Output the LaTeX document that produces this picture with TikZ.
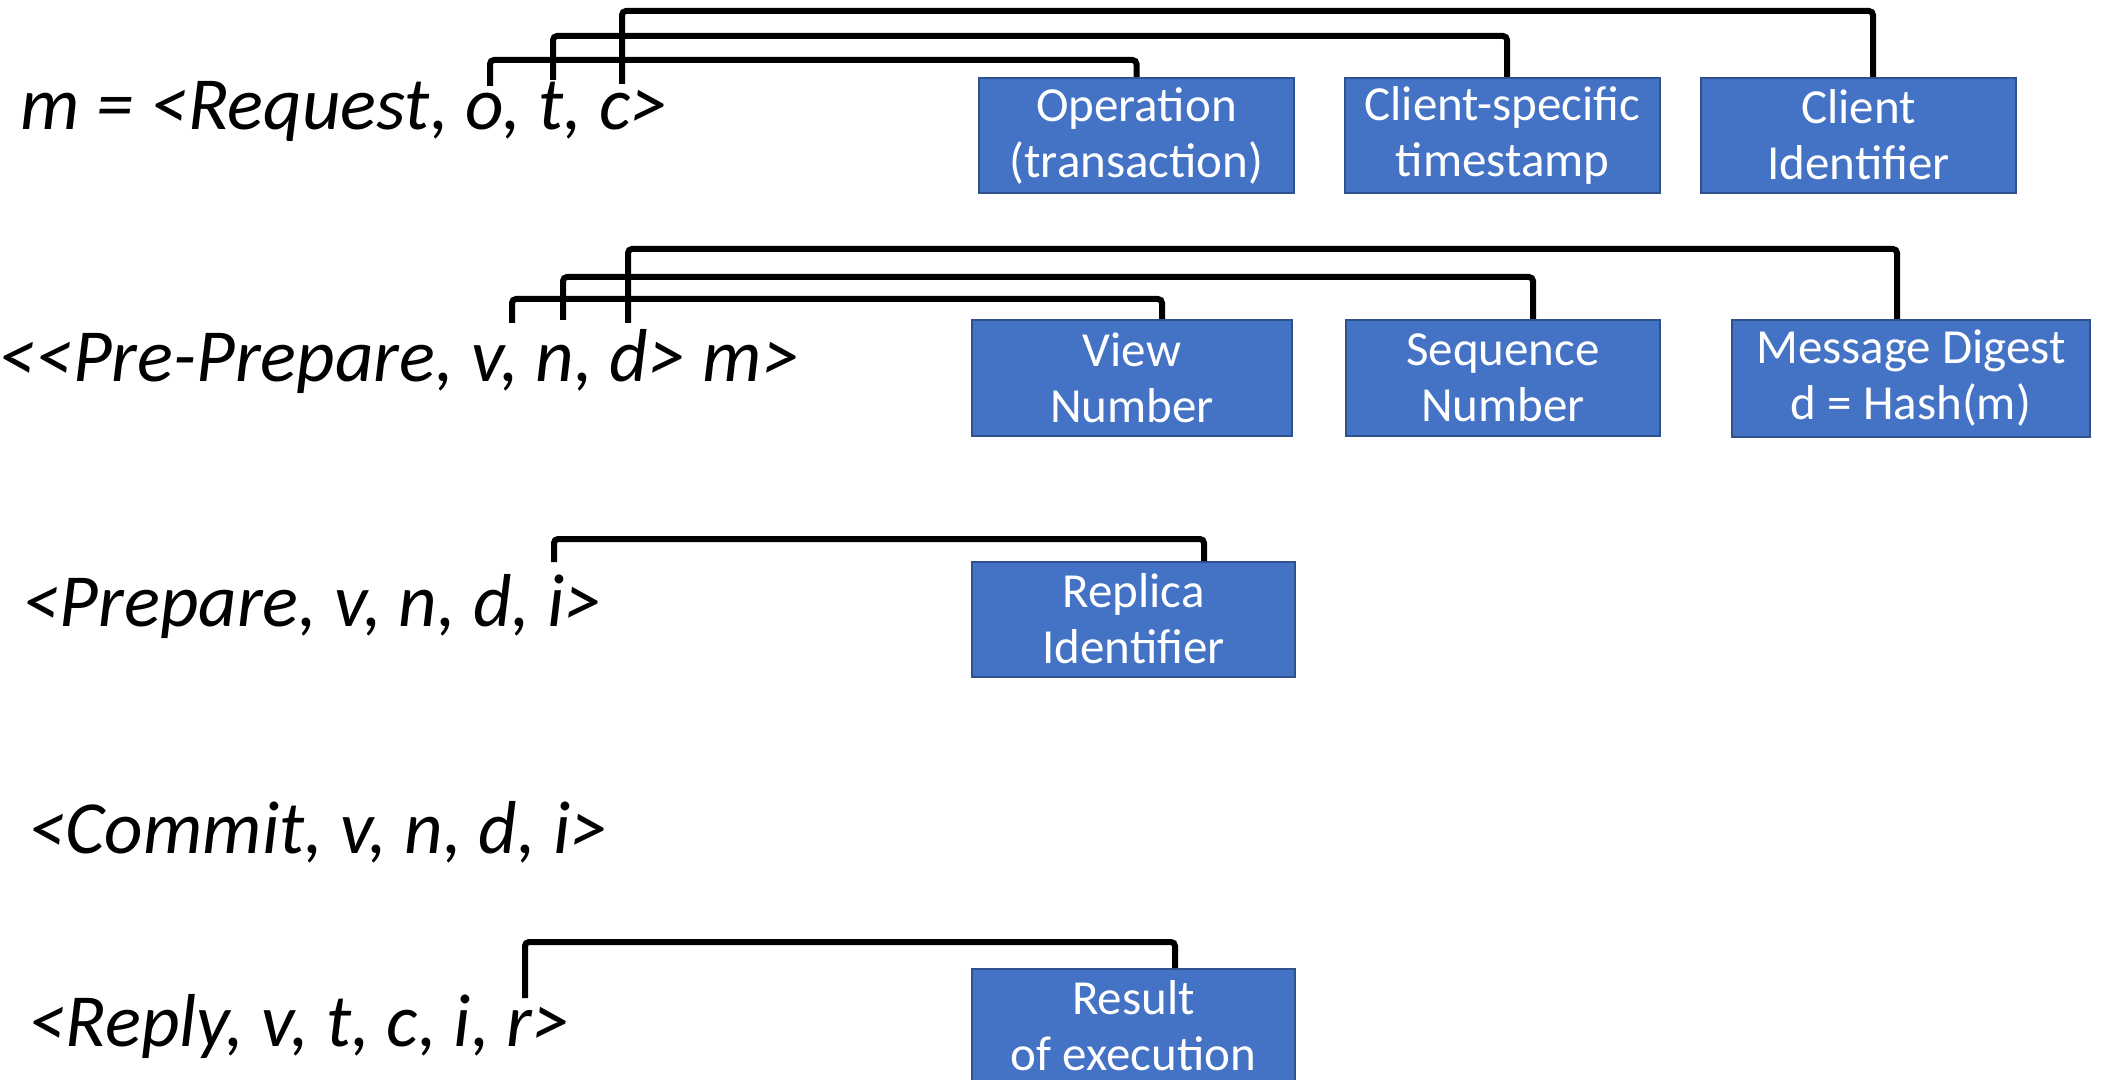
\documentclass[tikz,border=0pt]{standalone}
\usepackage{fontspec}
\setmainfont{Carlito}
\newfontfamily\carl{Carlito}
\definecolor{boxblue}{HTML}{4472C4}
\definecolor{boxedge}{HTML}{2F528F}
\newcommand{\msgfont}{\carl\itshape\fontsize{37.5pt}{45pt}\selectfont}
\newcommand{\boxfont}{\carl\fontsize{24.5pt}{28pt}\selectfont}
\tikzset{
  boxnode/.style={draw=boxedge, line width=1pt, fill=boxblue, text=white,
    font=\boxfont, align=center, inner sep=0pt,
    execute at begin node={\rule{0pt}{28.7pt}},
    execute at end node={\rule[-0.8pt]{0pt}{0.8pt}}},
  br/.style={line width=3pt, rounded corners=2pt},
  msg/.style={font=\msgfont, anchor=base west, inner sep=0pt},
}
\begin{document}
\begin{tikzpicture}[x=0.5pt,y=-0.5pt]
\useasboundingbox (0,0) rectangle (2103,1080);
\clip (0,0) rectangle (2103,1080);
% messages
\node[msg] (req) at (20,130) {m = <Request, o, t, c>};
\node[msg] (pp) at (-2,382) {<<Pre-Prepare, v, n, d> m>};
\node[msg] (prep) at (22,626) {<Prepare, v, n, d, i>};
\node[msg] (com) at (28,853) {<Commit, v, n, d, i>};
\node[msg] (rep) at (28,1046) {<Reply, v, t, c, i, r>};
% boxes row 1
\node[boxnode, minimum width=157.5pt, minimum height=57.5pt] (op) at (1136.5,135.5) {Operation\\(transaction)};
\node[boxnode, minimum width=157.5pt, minimum height=57.5pt] (cs) at (1502.5,135.5) {Client-specific\\timestamp};
\node[boxnode, minimum width=157.5pt, minimum height=57.5pt] (ci) at (1858.5,135.5) {Client\\Identifier};
% boxes row 2
\node[boxnode, minimum width=160pt, minimum height=58pt] (vn) at (1132,378) {View\\Number};
\node[boxnode, minimum width=157pt, minimum height=58pt] (sn) at (1503,378) {Sequence\\Number};
\node[boxnode, minimum width=179pt, minimum height=58.5pt] (md) at (1911,378.5) {Message Digest\\d = Hash(m)};
% row 3
\node[boxnode, minimum width=161.5pt, minimum height=57.5pt] (ri) at (1133.5,619.5) {Replica\\Identifier};
% row 5
\node[boxnode, minimum width=161.5pt, minimum height=57.5pt] (re) at (1133.5,1026.5) {Result\\of execution};
% bracket start points
\coordinate (ao) at (490,86);
\coordinate (at) at (553,80);
\coordinate (ac) at (622,84);
\coordinate (av) at (512,323);
\coordinate (an) at (563,320);
\coordinate (ad) at (628,323);
\coordinate (ai) at (554,562);
\coordinate (ar) at (525,998);
% brackets
\draw[br] (ao) -- ++(0,-26) -| (op.north);
\draw[br] (at) -- ++(0,-44) -| ([xshift=2.25pt]cs.north);
\draw[br] (ac) -- ++(0,-73) -| ([xshift=7.25pt]ci.north);
\draw[br] (av) -- ++(0,-24) -| ([xshift=15pt]vn.north);
\draw[br] (an) -- ++(0,-43) -| ([xshift=15pt]sn.north);
\draw[br] (ad) -- ++(0,-74) -| ([xshift=-7pt]md.north);
\draw[br] (ai) -- ++(0,-23) -| ([xshift=35.25pt]ri.north);
\draw[br] (ar) -- ++(0,-56) -| ([xshift=20.75pt]re.north);
\end{tikzpicture}
\end{document}
